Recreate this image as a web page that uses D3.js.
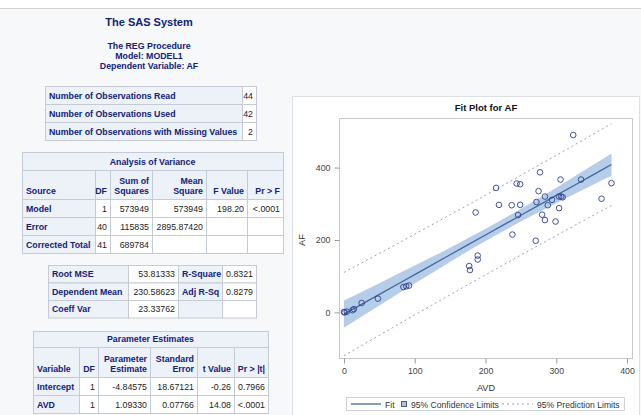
<!DOCTYPE html>
<html>
<head>
<meta charset="utf-8">
<script src="https://cdn.jsdelivr.net/npm/d3@7"></script>
<style>
  body { margin: 0; background: #f6f8fa; }
  text { font-family: "Liberation Sans", Arial, sans-serif; }
</style>
</head>
<body>
<div class="page"></div>
<script>
let obsLabels = ["Number of Observations Read", "Number of Observations Used", "Number of Observations with Missing Values"];
let obsValues = ["44", "42", "2"];

let anovaHeaders = [["Source"], ["DF"], ["Sum of", "Squares"], ["Mean", "Square"], ["F Value"], ["Pr > F"]];
let anovaSources = ["Model", "Error", "Corrected Total"];
let anovaDF = ["1", "40", "41"];
let anovaSS = ["573949", "115835", "689784"];
let anovaMS = ["573949", "2895.87420", ""];
let anovaF = ["198.20", "", ""];
let anovaP = ["<.0001", "", ""];

let fitLabels1 = ["Root MSE", "Dependent Mean", "Coeff Var"];
let fitValues1 = ["53.81333", "230.58623", "23.33762"];
let fitLabels2 = ["R-Square", "Adj R-Sq", ""];
let fitValues2 = ["0.8321", "0.8279", ""];

let parmHeaders = [["Variable"], ["DF"], ["Parameter", "Estimate"], ["Standard", "Error"], ["t Value"], ["Pr > |t|"]];
let parmVars = ["Intercept", "AVD"];
let parmDF = ["1", "1"];
let parmEst = ["-4.84575", "1.09330"];
let parmSE = ["18.67121", "0.07766"];
let parmT = ["-0.26", "14.08"];
let parmP = ["0.7966", "<.0001"];

// observations (AVD, AF)
let avd = [324, 277, 215, 244, 249, 306, 335, 378, 275, 186, 219, 237, 249, 284, 294, 304, 307, 309, 272, 288,
           364, 246, 304, 280, 284, 299, 238, 271, 189, 189, 177, 178, 1, 12, 25, 48, 84, 88, 92, 0, 4, 14];
let af = [490, 387, 344, 356, 354, 367, 367, 357, 335, 276, 297, 296, 297, 320, 311, 320, 320, 318, 305, 296,
          314, 269, 288, 270, 255, 251, 215, 198, 157, 146, 128, 117, 0, 6, 26, 38, 70, 72, 74, 1, 2, 9];

// fit, confidence band and prediction limits read along AVD
let bandAVD = [0, 50, 100, 150, 200, 250, 300, 350, 378];
let fitAF = [-4.8, 49.8, 104.5, 159.2, 213.8, 268.5, 323.1, 377.8, 408.4];
let clLower = [-42.5, 18.9, 79.8, 139.5, 196.9, 250.8, 301.7, 350.8, 377.8];
let clUpper = [32.9, 80.7, 129.2, 178.8, 230.8, 286.1, 344.6, 404.8, 439.0];
let plLower = [-119.9, -63.3, -7.0, 48.6, 103.7, 158.3, 212.3, 265.7, 295.5];
let plUpper = [110.3, 162.9, 216.0, 269.7, 323.9, 378.7, 434.0, 489.9, 521.3];

let xTicks = [0, 100, 200, 300, 400];
let yTicks = [0, 200, 400];

let navy = "#112277";
let headBg = "#edf1f8";
let gridCol = "#c5cbd6";

let svg = d3.select(".page")
  .append("svg")
  .attr("width", 641)
  .attr("height", 415)
  .style("display", "block");

// white strip and rule at the top
svg.append("rect").attr("x", 0).attr("y", 0).attr("width", 641).attr("height", 8).attr("fill", "white");
svg.append("line").attr("x1", 0).attr("x2", 641).attr("y1", 8.5).attr("y2", 8.5).attr("stroke", "#d0d0d0");

// titles
svg.append("text")
  .attr("x", 149).attr("y", 26)
  .attr("text-anchor", "middle")
  .attr("font-size", 11).attr("font-weight", "bold")
  .attr("fill", navy)
  .text("The SAS System");

let subTitles = ["The REG Procedure", "Model: MODEL1", "Dependent Variable: AF"];
subTitles.forEach(function(t, i) {
  svg.append("text")
    .attr("x", 149).attr("y", 49 + i * 10)
    .attr("text-anchor", "middle")
    .attr("font-size", 8.8).attr("font-weight", "bold")
    .attr("fill", navy)
    .text(t);
});

// one table cell: rect + text (lines bottom aligned)
let cell = function(x, y, w, h, lines, opts) {
  svg.append("rect")
    .attr("x", x + 0.5).attr("y", y + 0.5)
    .attr("width", w).attr("height", h)
    .attr("fill", opts.head ? headBg : "white")
    .attr("stroke", gridCol).attr("stroke-width", 1);
  let anchor = opts.align == "left" ? "start" : opts.align == "center" ? "middle" : "end";
  let tx = opts.align == "left" ? x + 4 : opts.align == "center" ? x + w / 2 : x + w - 3;
  let n = lines.length;
  lines.forEach(function(l, i) {
    svg.append("text")
      .attr("x", tx)
      .attr("y", y + h - 5.5 - (n - 1 - i) * 10)
      .attr("text-anchor", anchor)
      .attr("font-size", 8.8)
      .attr("font-weight", opts.head ? "bold" : "normal")
      .attr("fill", opts.head ? navy : "#222")
      .text(l);
  });
};

let colStarts = function(x0, widths) {
  let xs = [x0];
  widths.forEach(function(w) { xs.push(xs[xs.length - 1] + w); });
  return xs;
};

// table 1 - observations
let t1x = colStarts(45, [197, 14]);
obsLabels.forEach(function(l, i) {
  cell(t1x[0], 86 + i * 18, 197, 18, [l], { head: true, align: "left" });
  cell(t1x[1], 86 + i * 18, 14, 18, [obsValues[i]], { align: "right" });
});

// table 2 - analysis of variance
let aw = [73, 15, 42, 54, 41, 36];
let ax = colStarts(22, aw);
cell(22, 152, d3.sum(aw), 18, ["Analysis of Variance"], { head: true, align: "center" });
anovaHeaders.forEach(function(h, j) {
  cell(ax[j], 170, aw[j], 29, h, { head: true, align: j == 0 ? "left" : "right" });
});
let anovaCols = [anovaSources, anovaDF, anovaSS, anovaMS, anovaF, anovaP];
anovaSources.forEach(function(s, i) {
  anovaCols.forEach(function(col, j) {
    cell(ax[j], 199 + i * 18, aw[j], 18, [col[i]], { head: j == 0, align: j == 0 ? "left" : "right" });
  });
});

// table 3 - fit statistics
let fw = [80, 50, 44, 34];
let fx = colStarts(48, fw);
let fitCols = [fitLabels1, fitValues1, fitLabels2, fitValues2];
fitLabels1.forEach(function(s, i) {
  fitCols.forEach(function(col, j) {
    cell(fx[j], 265 + i * 17.5, fw[j], 17.5, [col[i]], { head: j % 2 == 0, align: j % 2 == 0 ? "left" : "right" });
  });
});

// table 4 - parameter estimates
let pw = [46, 19, 52, 47, 37, 34];
let px = colStarts(33, pw);
cell(33, 331, d3.sum(pw), 16, ["Parameter Estimates"], { head: true, align: "center" });
parmHeaders.forEach(function(h, j) {
  cell(px[j], 347, pw[j], 30, h, { head: true, align: j == 0 ? "left" : "right" });
});
let parmCols = [parmVars, parmDF, parmEst, parmSE, parmT, parmP];
parmVars.forEach(function(v, i) {
  parmCols.forEach(function(col, j) {
    cell(px[j], 377 + i * 18, pw[j], 18, [col[i]], { head: j == 0, align: j == 0 ? "left" : "right" });
  });
});

// ---- fit plot ----
svg.append("rect")
  .attr("x", 292.5).attr("y", 96.5)
  .attr("width", 347).attr("height", 330)
  .attr("fill", "white")
  .attr("stroke", "#dcdfe4");

svg.append("text")
  .attr("x", 486).attr("y", 111)
  .attr("text-anchor", "middle")
  .attr("font-size", 9.5).attr("font-weight", "bold")
  .attr("fill", "#111")
  .text("Fit Plot for AF");

let x = d3.scaleLinear().domain([-7, 407]).range([339, 632]);
let y = d3.scaleLinear().domain([-126, 537]).range([358, 118]);

let plot = svg.append("g");

// confidence band
let band = d3.area()
  .x(function(d, i) { return x(bandAVD[i]); })
  .y0(function(d, i) { return y(clLower[i]); })
  .y1(function(d, i) { return y(clUpper[i]); })
  .curve(d3.curveMonotoneX);
plot.append("path")
  .datum(bandAVD)
  .attr("d", band)
  .attr("fill", "#a9c4e6")
  .attr("opacity", 0.85);

// fit line
let line = function(vals) {
  return d3.line()
    .x(function(d, i) { return x(bandAVD[i]); })
    .y(function(d, i) { return y(vals[i]); })
    .curve(d3.curveMonotoneX)(bandAVD);
};
plot.append("path")
  .attr("d", line(fitAF))
  .attr("fill", "none")
  .attr("stroke", "#44689c")
  .attr("stroke-width", 1.3);

// prediction limits
[plLower, plUpper].forEach(function(vals) {
  plot.append("path")
    .attr("d", line(vals))
    .attr("fill", "none")
    .attr("stroke", "#a0a0a8")
    .attr("stroke-width", 1)
    .attr("stroke-dasharray", "2,3");
});

// observations
plot.selectAll("circle.obs")
  .data(avd)
  .enter()
  .append("circle")
  .attr("class", "obs")
  .attr("cx", function(d) { return x(d); })
  .attr("cy", function(d, i) { return y(af[i]); })
  .attr("r", 2.8)
  .attr("fill", "none")
  .attr("stroke", "#2d3f8e")
  .attr("stroke-width", 0.9);

// frame
svg.append("rect")
  .attr("x", 339.5).attr("y", 118.5)
  .attr("width", 293).attr("height", 240)
  .attr("fill", "none")
  .attr("stroke", "#c8c8c8");

// axes
let xAxis = svg.append("g")
  .attr("transform", "translate(0,358.5)")
  .call(d3.axisBottom(x).tickValues(xTicks).tickSize(5).tickPadding(4));
let yAxis = svg.append("g")
  .attr("transform", "translate(339.5,0)")
  .call(d3.axisLeft(y).tickValues(yTicks).tickSize(5).tickPadding(4));
[xAxis, yAxis].forEach(function(a) {
  a.select(".domain").remove();
  a.selectAll("line").attr("stroke", "#999");
  a.selectAll("text")
    .attr("font-size", 8.8)
    .attr("fill", "#444")
    .style("font-family", "'Liberation Sans', Arial, sans-serif");
});

svg.append("text")
  .attr("x", 486).attr("y", 391)
  .attr("text-anchor", "middle")
  .attr("font-size", 9.2)
  .attr("fill", "#333")
  .text("AVD");

svg.append("text")
  .attr("transform", "translate(305,240) rotate(-90)")
  .attr("text-anchor", "middle")
  .attr("font-size", 9.2)
  .attr("fill", "#333")
  .text("AF");

// legend
let leg = svg.append("g");
leg.append("rect")
  .attr("x", 346.5).attr("y", 397.5)
  .attr("width", 278).attr("height", 13)
  .attr("fill", "white")
  .attr("stroke", "#cfd2d8");
leg.append("line")
  .attr("x1", 351).attr("x2", 381).attr("y1", 404).attr("y2", 404)
  .attr("stroke", "#44689c").attr("stroke-width", 1.3);
leg.append("text")
  .attr("x", 385).attr("y", 407.5)
  .attr("font-size", 8.6).attr("fill", "#333")
  .text("Fit");
leg.append("rect")
  .attr("x", 401.5).attr("y", 401.5)
  .attr("width", 5).attr("height", 5)
  .attr("fill", "#a9c4e6").attr("stroke", "#4a5f85");
leg.append("text")
  .attr("x", 411).attr("y", 407.5)
  .attr("font-size", 8.6).attr("fill", "#333")
  .text("95% Confidence Limits");
leg.append("line")
  .attr("x1", 502).attr("x2", 533).attr("y1", 404).attr("y2", 404)
  .attr("stroke", "#a0a0a8").attr("stroke-dasharray", "2,3");
leg.append("text")
  .attr("x", 537).attr("y", 407.5)
  .attr("font-size", 8.6).attr("fill", "#333")
  .text("95% Prediction Limits");
</script>
</body>
</html>
